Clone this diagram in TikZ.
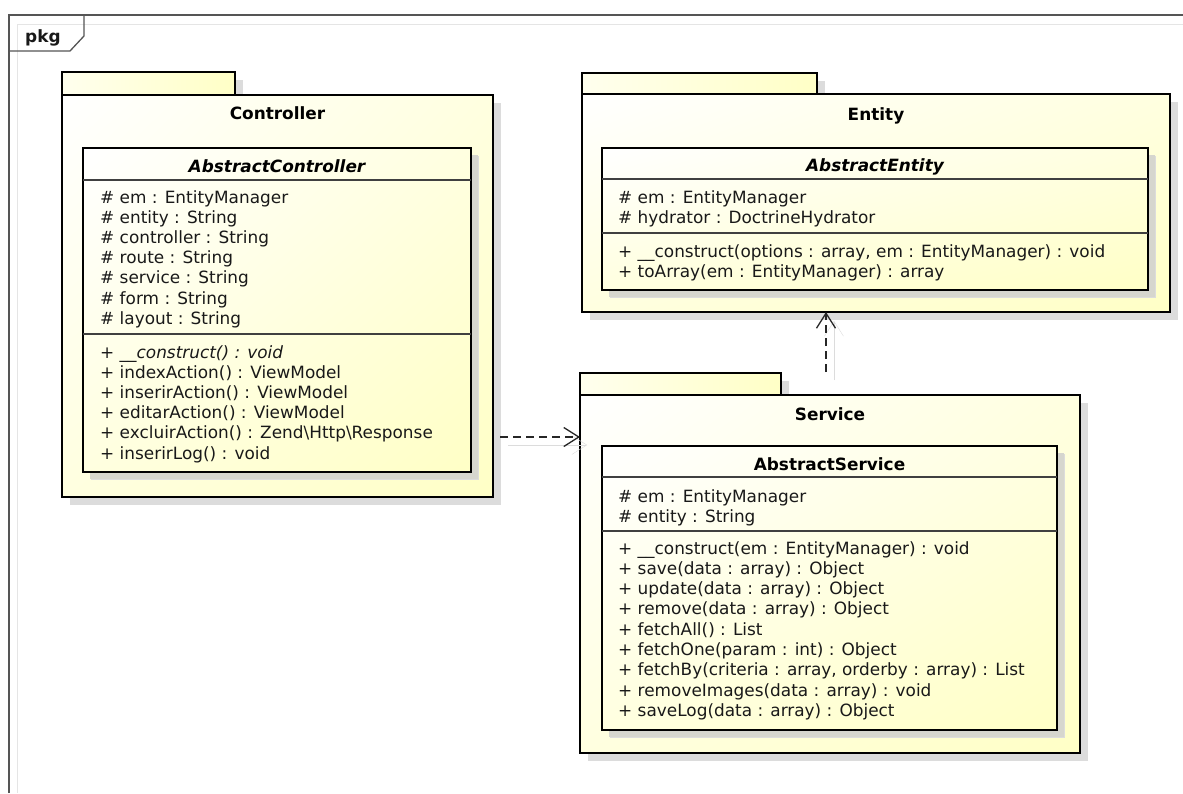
\documentclass[tikz,border=0pt]{standalone}
\usepackage{fontspec}
\setmainfont{DejaVu Sans}
\usetikzlibrary{arrows.meta,shadows,shadings}
\newcommand{\umlfont}{\fontsize{16.9pt}{20pt}\selectfont}

\begin{document}
\begin{tikzpicture}[x=1pt,y=-1pt,
  pkgbox/.style={draw=black,line width=2.6pt,anchor=north west,inner sep=0pt,outer sep=0pt,
    shade,upper left=white,upper right=umlyellow!55,lower left=umlyellow!55,lower right=umlyellow,
    general shadow={fill=shadowgray,shadow xshift=8pt,shadow yshift=-8pt}},
  tabbox/.style={pkgbox,upper left=umlyellow!30,lower left=umlyellow!30,upper right=umlyellow,lower right=umlyellow},
  classbox/.style={pkgbox,general shadow={fill=classshadow,shadow xshift=7pt,shadow yshift=-7pt}},
  sepline/.style={draw=black!75,line width=1.3pt},
  member/.style={anchor=base west,inner sep=0pt,font=\umlfont,text=black!90},
  pkgtitle/.style={anchor=base,inner sep=0pt,font=\umlfont\bfseries},
  clsname/.style={anchor=base,inner sep=0pt,font=\umlfont\bfseries\itshape},
  dep/.style={draw=black!85,line width=1.3pt,dash pattern=on 8pt off 5pt,
    -{Straight Barb[length=15pt,width=19pt]},
    preaction={draw=shadowgray,solid,transform canvas={shift={(8pt,-8pt)}}}}]
\definecolor{umlyellow}{HTML}{FFFFC6}
\definecolor{shadowgray}{HTML}{DCDCDC}
\definecolor{classshadow}{HTML}{D6D6CE}
\definecolor{framegray}{HTML}{555555}
\useasboundingbox (0,0) rectangle (1183,793);

% outer frame
\draw[gray!20,line width=1pt] (17,793) -- (17,24) -- (1183,24);
\draw[framegray,line width=1.3pt] (9,793) -- (9,15) -- (1183,15);
\draw[framegray,line width=1.3pt] (84,15) -- (84,36) -- (70,51) -- (9,51);
\node[anchor=base west,inner sep=0pt,font=\umlfont\bfseries,text=black!90] (pkg) at (25,42) {pkg};

% Controller
\node[tabbox,minimum width=173pt,minimum height=23pt] (ctrltab) at (62,72) {};
\node[pkgbox,minimum width=431pt,minimum height=402pt] (ctrl) at (62,95) {};
\node[pkgtitle] (ctrltitle) at (277.5,119) {Controller};
\node[classbox,minimum width=388pt,minimum height=324pt] (actrl) at (83,148) {};
\node[clsname] (actrlname) at (277,172) {AbstractController};
\draw[sepline] (83,180) -- (471,180);
\draw[sepline] (83,334) -- (471,334);
\foreach \txt [count=\i from 0] in {\# em : EntityManager,\# entity : String,\# controller : String,
    \# route : String,\# service : String,\# form : String,\# layout : String}
  \node[member] at (100,203+20.2*\i) {\txt};
\node[member] at (100,358) {+ \textit{\_\_construct() : void}};
\foreach \txt [count=\i from 1] in {+ indexAction() : ViewModel,+ inserirAction() : ViewModel,
    + editarAction() : ViewModel,+ excluirAction() : Zend\textbackslash Http\textbackslash Response,
    + inserirLog() : void}
  \node[member] at (100,358+20.2*\i) {\txt};

% Entity
\node[tabbox,minimum width=235pt,minimum height=21pt] (enttab) at (582,73) {};
\node[pkgbox,minimum width=588pt,minimum height=218pt] (ent) at (582,94) {};
\node[pkgtitle] (enttitle) at (876,120) {Entity};
\node[classbox,minimum width=546pt,minimum height=142pt] (aent) at (602,148) {};
\node[clsname] (aentname) at (875,171) {AbstractEntity};
\draw[sepline] (602,179) -- (1148,179);
\draw[sepline] (602,233) -- (1148,233);
\node[member] at (618,203) {\# em : EntityManager};
\node[member] at (618,223.5) {\# hydrator : DoctrineHydrator};
\node[member] at (618,257) {+ \_\_construct(options : array, em : EntityManager) : void};
\node[member] at (618,277) {+ toArray(em : EntityManager) : array};

% Service
\node[tabbox,minimum width=201pt,minimum height=22pt] (srvtab) at (580,373) {};
\node[pkgbox,minimum width=500pt,minimum height=358pt] (srv) at (580,395) {};
\node[pkgtitle] (srvtitle) at (830,420) {Service};
\node[classbox,minimum width=455pt,minimum height=284pt] (asrv) at (602,446) {};
\node[pkgtitle] (asrvname) at (829.5,470) {AbstractService};
\draw[sepline] (602,477) -- (1057,477);
\draw[sepline] (602,531) -- (1057,531);
\node[member] at (618,502) {\# em : EntityManager};
\node[member] at (618,522) {\# entity : String};
\foreach \txt [count=\i from 0] in {+ \_\_construct(em : EntityManager) : void,
    + save(data : array) : Object,+ update(data : array) : Object,+ remove(data : array) : Object,
    + fetchAll() : List,+ fetchOne(param : int) : Object,
    {+ fetchBy(criteria : array, orderby : array) : List},
    + removeImages(data : array) : void,+ saveLog(data : array) : Object}
  \node[member] at (618,554+20.3*\i) {\txt};

% dependencies
\coordinate (ctrlout) at (500,437);
\coordinate (srvout) at (826,372);
\draw[dep] (ctrlout) -- (ctrlout -| srv.west);
\draw[dep] (srvout) -- (srvout |- ent.south);
\end{tikzpicture}
\end{document}
